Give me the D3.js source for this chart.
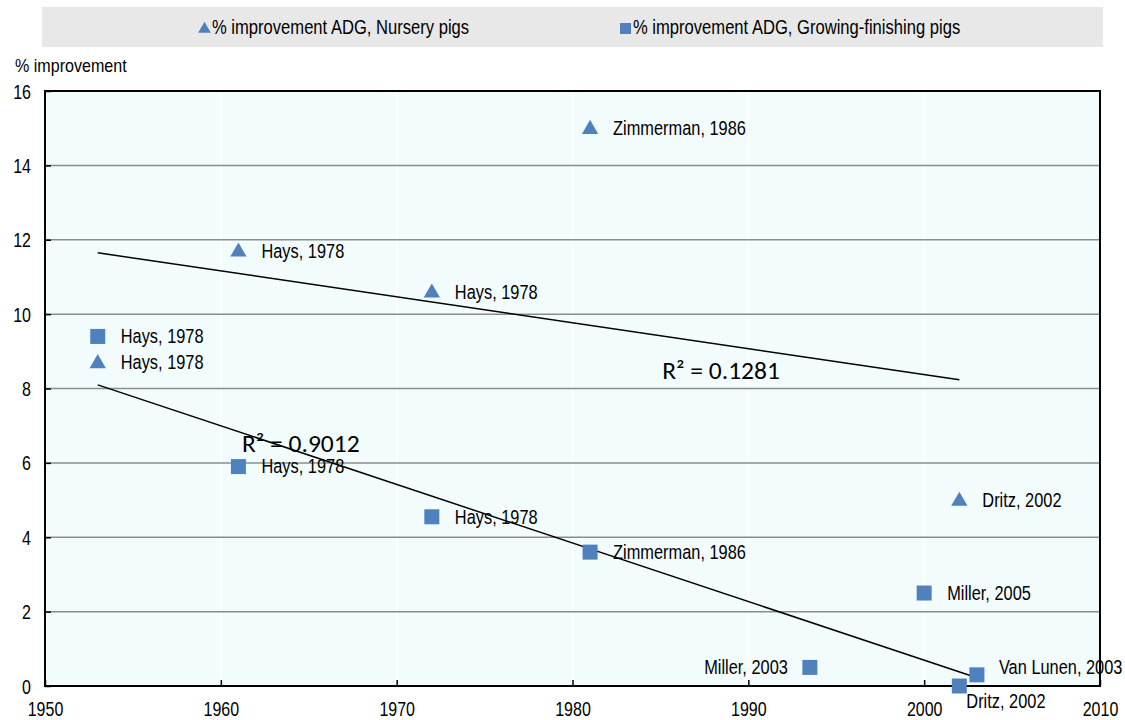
<!DOCTYPE html>
<html>
<head>
<meta charset="utf-8">
<script src="https://cdn.jsdelivr.net/npm/d3@7"></script>
<style>
  body { margin: 0; background: #fff; }
  text { font-family: 'Liberation Sans', Arial, sans-serif; fill: #000; }
</style>
</head>
<body>
<script>
// nursery pigs (triangles)
const nurseryYears = [1953, 1961, 1972, 1981, 2002]
const nurseryValues = [8.7, 11.7, 10.6, 15.0, 5.0]
const nurseryLabels = ['Hays, 1978', 'Hays, 1978', 'Hays, 1978', 'Zimmerman, 1986', 'Dritz, 2002']

// growing-finishing pigs (squares)
const growYears = [1953, 1961, 1972, 1981, 1993.5, 2000, 2002, 2003]
const growValues = [9.4, 5.9, 4.55, 3.6, 0.5, 2.5, 0.0, 0.3]
const growLabels = ['Hays, 1978', 'Hays, 1978', 'Hays, 1978', 'Zimmerman, 1986', 'Miller, 2003', 'Miller, 2005', 'Dritz, 2002', 'Van Lunen, 2003']

const xTicks = [1950, 1960, 1970, 1980, 1990, 2000, 2010]
const yTicks = [0, 2, 4, 6, 8, 10, 12, 14, 16]
const seriesNames = ['% improvement ADG, Nursery pigs', '% improvement ADG, Growing-finishing pigs']
const r2Texts = ['R² = 0.1281', 'R² = 0.9012']

const m = { width: 1125, height: 720, left: 45, right: 1100, top: 91, bottom: 686 }
const blue = '#4f81bd'

// the chart uses a narrow typeface; squeeze regular text horizontally
function narrow(sel, anchor, k) {
  const origin = anchor === 'end' ? 'right center' : anchor === 'middle' ? 'center center' : 'left center'
  sel.style('transform-box', 'fill-box')
     .style('transform-origin', origin)
     .style('transform', `scaleX(${k || 0.82})`)
}

const svg = d3.select('body').append('svg')
    .attr('width', m.width)
    .attr('height', m.height)

const x = d3.scaleLinear().domain([1950, 2010]).range([m.left, m.right])
const y = d3.scaleLinear().domain([0, 16]).range([m.bottom, m.top])

// legend
svg.append('rect')
    .attr('x', 42).attr('y', 7).attr('width', 1061).attr('height', 40)
    .attr('fill', '#e8e8e8')

const tri = d3.symbol().type(d3.symbolTriangle)
const legend = svg.append('g')
legend.append('path')
    .attr('d', tri.size(70)())
    .attr('transform', 'translate(204.5,29)')
    .attr('fill', blue)
legend.append('text')
    .attr('x', 212).attr('y', 34.5)
    .attr('font-size', 20)
    .text(seriesNames[0])
    .call(narrow, 'start', 0.83)
legend.append('rect')
    .attr('x', 620).attr('y', 23).attr('width', 11).attr('height', 11)
    .attr('fill', blue)
legend.append('text')
    .attr('x', 633).attr('y', 34.5)
    .attr('font-size', 20)
    .text(seriesNames[1])
    .call(narrow, 'start', 0.83)

// y axis title
svg.append('text')
    .attr('x', 15).attr('y', 72)
    .attr('font-size', 17.5)
    .text('% improvement')
    .call(narrow, 'start', 0.92)

// plot background
svg.append('rect')
    .attr('x', m.left).attr('y', m.top)
    .attr('width', m.right - m.left).attr('height', m.bottom - m.top)
    .attr('fill', '#f3fcfd')

// vertical white gridlines
svg.append('g').selectAll('line')
    .data(xTicks.slice(1, -1))
    .enter().append('line')
    .attr('x1', d => x(d)).attr('x2', d => x(d))
    .attr('y1', m.top).attr('y2', m.bottom)
    .attr('stroke', '#fff').attr('stroke-width', 1.5)

// horizontal grey gridlines
svg.append('g').selectAll('line')
    .data(yTicks.slice(1, -1))
    .enter().append('line')
    .attr('x1', m.left).attr('x2', m.right)
    .attr('y1', d => y(d)).attr('y2', d => y(d))
    .attr('stroke', '#8c8c8c').attr('stroke-width', 1.5)

// axes
const yAxis = d3.axisLeft(y).tickValues(yTicks).tickSize(-6).tickPadding(14)
const gy = svg.append('g').attr('transform', `translate(${m.left},0)`).call(yAxis)
const xAxis = d3.axisBottom(x).tickValues(xTicks).tickSize(-6).tickPadding(15).tickFormat(d3.format('d'))
const gx = svg.append('g').attr('transform', `translate(0,${m.bottom})`).call(xAxis)
gy.select('.domain').remove()
gx.select('.domain').remove()
;[gx, gy].forEach(g => {
  g.selectAll('text').attr('font-size', 19.5).attr('font-family', null)
  g.selectAll('line').attr('stroke', '#000').attr('stroke-width', 1.5)
})
gy.selectAll('text').attr('dy', '0.36em').call(narrow, 'end')
gx.selectAll('text').attr('dy', '0.75em').call(narrow, 'middle')

// plot frame
svg.append('rect')
    .attr('x', m.left).attr('y', m.top)
    .attr('width', m.right - m.left).attr('height', m.bottom - m.top)
    .attr('fill', 'none').attr('stroke', '#000').attr('stroke-width', 2)

// R² labels
const r2Pos = [[1985.1, 8.25], [1961.2, 6.3]]
svg.append('g').selectAll('text')
    .data(r2Texts)
    .enter().append('text')
    .attr('x', (d, i) => x(r2Pos[i][0]))
    .attr('y', (d, i) => y(r2Pos[i][1]))
    .attr('font-size', 25.5)
    .style('font-family', "Carlito, Calibri, Lato, sans-serif")
    .text(d => d)

// linear trend lines from the data
function fit(xs, ys) {
  const mx = d3.mean(xs), my = d3.mean(ys)
  const b = d3.sum(xs, (v, i) => (v - mx) * (ys[i] - my)) / d3.sum(xs, v => (v - mx) ** 2)
  const a = my - b * mx
  const x0 = d3.min(xs), x1 = d3.max(xs)
  return [[x0, a + b * x0], [x1, a + b * x1]]
}
const line = d3.line().x(d => x(d[0])).y(d => y(d[1]))
;[fit(nurseryYears, nurseryValues), fit(growYears, growValues)].forEach(seg => {
  svg.append('path')
      .attr('d', line(seg))
      .attr('fill', 'none')
      .attr('stroke', '#000')
      .attr('stroke-width', 1.5)
})

// points
const nursery = nurseryYears.map((d, i) => ({ year: d, value: nurseryValues[i], label: nurseryLabels[i] }))
const grow = growYears.map((d, i) => ({ year: d, value: growValues[i], label: growLabels[i] }))

svg.append('g').selectAll('path')
    .data(nursery)
    .enter().append('path')
    .attr('d', tri.size(115)())
    .attr('transform', d => `translate(${x(d.year)},${y(d.value) + 1})`)
    .attr('fill', blue)

svg.append('g').selectAll('rect')
    .data(grow)
    .enter().append('rect')
    .attr('x', d => x(d.year) - 7.5)
    .attr('y', d => y(d.value) - 7.5)
    .attr('width', 15).attr('height', 15)
    .attr('fill', blue)

// data labels: default right of the marker, a few moved
const growLabelShift = { 4: [-22, 0, 'end'], 6: [7, 15, 'start'], 7: [22, -8, 'start'] }

svg.append('g').selectAll('text')
    .data(nursery)
    .enter().append('text')
    .attr('x', d => x(d.year) + 23)
    .attr('y', d => y(d.value))
    .attr('dy', '0.35em')
    .attr('font-size', 19.5)
    .text(d => d.label)
    .call(narrow, 'start', 0.84)

const growText = svg.append('g').selectAll('text')
    .data(grow)
    .enter().append('text')
    .attr('x', (d, i) => x(d.year) + (growLabelShift[i] ? growLabelShift[i][0] : 23))
    .attr('y', (d, i) => y(d.value) + (growLabelShift[i] ? growLabelShift[i][1] : 0))
    .attr('dy', '0.35em')
    .attr('text-anchor', (d, i) => growLabelShift[i] ? growLabelShift[i][2] : 'start')
    .attr('font-size', 19.5)
    .text(d => d.label)
growText.filter((d, i) => !growLabelShift[i] || growLabelShift[i][2] === 'start').call(narrow, 'start', 0.84)
growText.filter((d, i) => growLabelShift[i] && growLabelShift[i][2] === 'end').call(narrow, 'end', 0.84)
</script>
</body>
</html>
